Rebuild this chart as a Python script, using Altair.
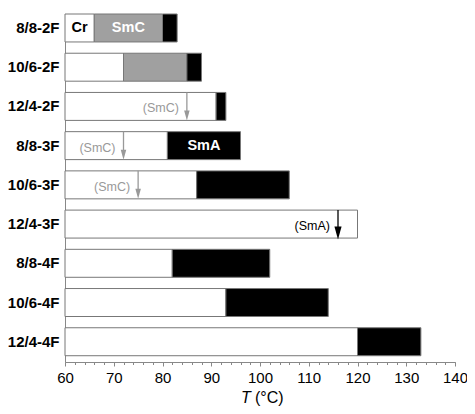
import altair as alt
import pandas as pd

# ---- data ----
categories = ["8/8-2F", "10/6-2F", "12/4-2F", "8/8-3F", "10/6-3F",
              "12/4-3F", "8/8-4F", "10/6-4F", "12/4-4F"]
t_start = 60
cr_end = [66, 72, 91, 81, 87, 120, 82, 93, 120]
smc_end = [80, 85, None, None, None, None, None, None, None]
sma_end = [83, 88, 93, 96, 106, None, 102, 114, 133]

mono_cat = ["12/4-2F", "8/8-3F", "10/6-3F", "12/4-3F"]
mono_T = [85, 72, 75, 116]
mono_phase = ["SmC", "SmC", "SmC", "SmA"]

label_cat = ["8/8-2F", "8/8-2F", "8/8-3F"]
label_phase = ["Cr", "SmC", "SmA"]

x_ticks = list(range(60, 141, 10))
x_minor = list(range(60, 141, 2))
phases = ["Cr", "SmC", "SmA"]

# ---- build tables ----
rows = []
for c, a, b, d in zip(categories, cr_end, smc_end, sma_end):
    rows.append({"cat": c, "phase": "Cr", "start": t_start, "end": a})
    last = a
    if b is not None:
        rows.append({"cat": c, "phase": "SmC", "start": a, "end": b})
        last = b
    if d is not None:
        rows.append({"cat": c, "phase": "SmA", "start": last, "end": d})
seg_df = pd.DataFrame(rows)

lab_rows = []
for c, p in zip(label_cat, label_phase):
    r = seg_df[(seg_df.cat == c) & (seg_df.phase == p)].iloc[0]
    lab_rows.append({"cat": c, "phase": p, "mid": (r.start + r.end) / 2})
lab_df = pd.DataFrame(lab_rows)

mono_df = pd.DataFrame({"cat": mono_cat, "T": mono_T, "phase": mono_phase,
                        "label": ["(" + p + ")" for p in mono_phase]})

W, H = 390, 348
FONT = "Liberation Sans"
xscale = alt.Scale(domain=[60, 140], nice=False, zero=False)
yscale = alt.Scale(domain=categories, paddingInner=0.287, paddingOuter=0.08, align=0)

bars = alt.Chart(seg_df).mark_bar(stroke="#777", strokeWidth=1).encode(
    x=alt.X("start:Q", scale=xscale,
            axis=alt.Axis(values=x_ticks, format="d", title=None, grid=False,
                          tickSize=4, labelFontSize=15, labelColor="black",
                          labelPadding=4, domainColor="#888", tickColor="#888",
                          labelFont=FONT, labelFlush=False, orient="bottom")),
    x2="end:Q",
    y=alt.Y("cat:N", scale=yscale, sort=categories,
            axis=alt.Axis(title=None, ticks=False, tickSize=0, labelPadding=6,
                          labelFont=FONT, labelFontWeight="bold", labelFontSize=15,
                          labelColor="black", domainColor="#888", grid=False,
                          orient="left")),
    color=alt.Color("phase:N", scale=alt.Scale(domain=phases,
                    range=["white", "#a0a0a0", "black"]), legend=None),
)

labels = alt.Chart(lab_df).mark_text(fontSize=14.5, fontWeight="bold", font=FONT).encode(
    x=alt.X("mid:Q", scale=xscale,
            axis=alt.Axis(values=x_minor, labels=False, domain=False, tickSize=2.5,
                          title=None, grid=False, orient="bottom", tickColor="#888")),
    y=alt.Y("cat:N", scale=yscale, sort=categories, axis=None),
    text="phase:N",
    color=alt.Color("phase:N", scale=alt.Scale(domain=phases,
                    range=["black", "white", "white"]), legend=None),
)

arrow_color = alt.Color("phase:N", scale=alt.Scale(domain=["SmC", "SmA"],
                        range=["#999999", "black"]), legend=None)

rules = alt.Chart(mono_df).mark_rule(strokeWidth=1.3, yOffset=-14, y2Offset=5).encode(
    x=alt.X("T:Q", scale=xscale, axis=None),
    y=alt.Y("cat:N", scale=yscale, sort=categories, axis=None),
    y2="cat:N",
    color=arrow_color,
)

heads = alt.Chart(mono_df).mark_point(shape="M-0.55,-1L0.55,-1L0,1Z", filled=True,
                                      opacity=1, yOffset=9, strokeWidth=0).encode(
    x=alt.X("T:Q", scale=xscale, axis=None),
    y=alt.Y("cat:N", scale=yscale, sort=categories, axis=None),
    color=arrow_color,
    size=alt.Size("phase:N", scale=alt.Scale(domain=["SmC", "SmA"], range=[100, 169]),
                  legend=None),
)

alabels = alt.Chart(mono_df).mark_text(align="right", dx=-8, dy=2, fontSize=12.5,
                                       font=FONT, baseline="middle").encode(
    x=alt.X("T:Q", scale=xscale, axis=None),
    y=alt.Y("cat:N", scale=yscale, sort=categories, axis=None),
    text="label:N",
    color=arrow_color,
)

one = pd.DataFrame({"a": [0]})
tT = alt.Chart(one).mark_text(text="T", fontStyle="italic", fontSize=16, align="left",
                              baseline="alphabetic", font=FONT, color="black").encode(
    x=alt.value(176), y=alt.value(H + 41))
tC = alt.Chart(one).mark_text(text="(°C)", fontSize=16, align="left",
                              baseline="alphabetic", font=FONT, color="black").encode(
    x=alt.value(190), y=alt.value(H + 41))

chart = alt.layer(bars, labels, rules, heads, alabels, tT, tC).resolve_scale(
    color="independent", size="independent"
).resolve_axis(x="independent", y="independent").properties(
    width=W, height=H,
    autosize=alt.AutoSizeParams(type="none"),
    padding={"left": 57, "top": 6, "right": 12, "bottom": 44},
).configure_view(stroke=None)

chart.save("out.html", embed_options={"renderer": "svg", "actions": False})
